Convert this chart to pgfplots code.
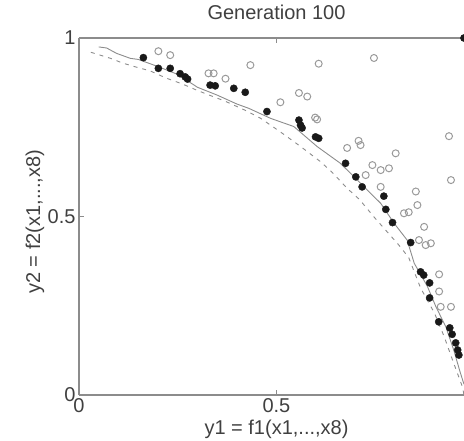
\documentclass[border=0pt]{standalone}
\usepackage{pgfplots}
\pgfplotsset{compat=1.18}
\usepackage{fontspec}
\setmainfont{Liberation Sans}
\definecolor{axgray}{HTML}{8C8C8C}
\definecolor{ptgray}{HTML}{9A9A9A}
\begin{document}
\begin{tikzpicture}
\path[use as bounding box] (-79pt,-45pt) rectangle (385pt,395pt);
\begin{axis}[
  at={(0,0)}, anchor=origin,
  scale only axis, width=385pt, height=357pt,
  xmin=0, xmax=0.975, ymin=0, ymax=1,
  axis x line=box, axis y line=left,
  axis line style={axgray, line width=1.3pt, -},
  xtick={0,0.5}, ytick={0,0.5,1},
  xticklabels={0,0.5}, yticklabels={0,0.5,1},
  tick align=inside, major tick length=5pt,
  tick style={axgray, line width=0.8pt},
  font=\fontsize{20}{24}\selectfont,
  tick label style={font=\fontsize{20}{24}\selectfont, text=black!75},
  /pgf/number format/assume math mode=true,
  title={Generation 100},
  title style={at={(axis description cs:0.513,1)}, anchor=base, yshift=13pt, text=black!75},
  xlabel={y1 = f1(x1,...,x8)},
  xlabel style={at={(axis description cs:0.513,0)}, anchor=base, yshift=-39pt, text=black!75},
  ylabel={y2 = f2(x1,...,x8)},
  ylabel style={at={([xshift=-44pt]axis description cs:0,0.485)}, anchor=center, text=black!75},
  clip=false,
]
% dashed front
\addplot[axgray, dashed, line width=0.9pt, dash pattern=on 4pt off 5pt] coordinates {
(0.03,0.960)(0.08,0.943)(0.11,0.930)(0.14,0.920)(0.18,0.908)(0.22,0.888)(0.26,0.872)
(0.30,0.853)(0.33,0.840)(0.37,0.823)(0.42,0.798)(0.46,0.775)(0.51,0.737)(0.56,0.697)
(0.61,0.655)(0.64,0.625)(0.68,0.578)(0.71,0.548)(0.75,0.495)(0.77,0.470)(0.81,0.420)
(0.835,0.385)(0.865,0.300)(0.90,0.230)(0.925,0.163)(0.946,0.098)(0.971,0.023)(0.975,0.0)
};
% solid front
\addplot[axgray, line width=0.9pt] coordinates {
(0.05,0.975)(0.07,0.972)(0.095,0.957)(0.13,0.943)(0.15,0.940)(0.20,0.920)(0.25,0.898)
(0.30,0.862)(0.35,0.840)(0.40,0.815)(0.43,0.803)(0.485,0.775)(0.544,0.752)(0.603,0.696)
(0.662,0.649)(0.713,0.593)(0.764,0.537)(0.798,0.481)(0.831,0.434)(0.849,0.369)(0.882,0.305)
(0.904,0.247)(0.929,0.191)(0.949,0.126)(0.965,0.065)(0.975,0.03)
};
% open circles
\addplot[only marks, mark=o, mark size=3.5pt, mark options={ptgray, line width=1pt}] coordinates {
(0.201,0.963)(0.231,0.952)(0.328,0.901)(0.341,0.901)(0.371,0.886)(0.434,0.924)(0.607,0.928)
(0.747,0.944)(0.510,0.820)(0.557,0.846)(0.578,0.836)(0.603,0.772)(0.598,0.777)(0.937,0.725)
(0.942,0.602)(0.713,0.700)(0.708,0.712)(0.679,0.692)(0.743,0.644)(0.764,0.630)(0.785,0.635)
(0.802,0.677)(0.726,0.616)(0.764,0.583)(0.853,0.570)(0.857,0.532)(0.823,0.509)(0.835,0.512)
(0.874,0.471)(0.891,0.425)(0.878,0.420)(0.861,0.434)(0.912,0.338)(0.912,0.290)(0.942,0.247)
(0.916,0.247)
};
% filled dots
\addplot[only marks, mark=*, mark size=3.6pt, mark options={black!90, fill=black!90}] coordinates {
(0.163,0.945)(0.201,0.915)(0.231,0.915)(0.256,0.900)(0.269,0.891)(0.275,0.885)(0.332,0.868)
(0.345,0.866)(0.392,0.859)(0.421,0.848)(0.476,0.794)(0.557,0.770)(0.561,0.756)(0.565,0.748)
(0.599,0.723)(0.607,0.719)(0.675,0.649)(0.701,0.611)(0.717,0.583)(0.772,0.557)(0.777,0.520)
(0.794,0.483)(0.840,0.427)(0.865,0.345)(0.873,0.336)(0.888,0.314)(0.888,0.272)(0.911,0.205)
(0.939,0.188)(0.945,0.170)(0.954,0.146)(0.959,0.126)(0.962,0.112)(0.975,1.0)
};
\end{axis}
\end{tikzpicture}
\end{document}
